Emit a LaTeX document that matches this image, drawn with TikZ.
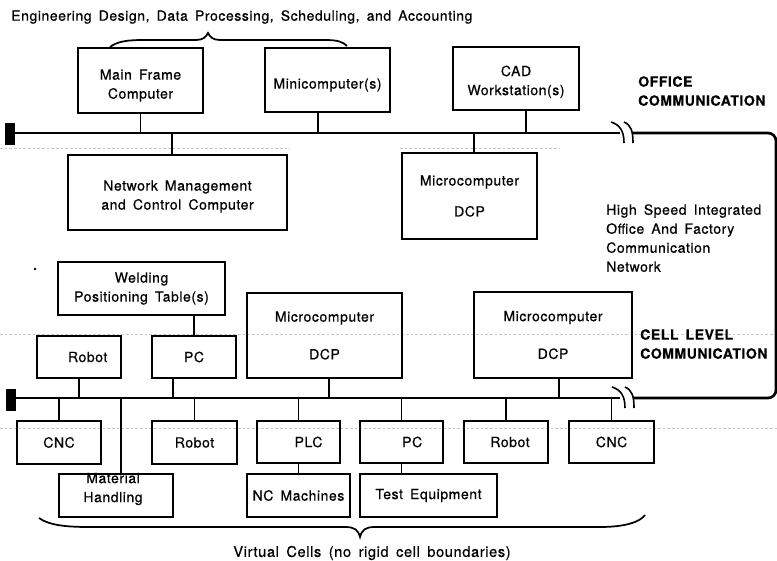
\documentclass[tikz,border=0pt]{standalone}
\usepackage{fontspec}
\setmainfont{TeX Gyre Heros}[LetterSpace=4,WordSpace=1.6,FakeBold=0.6]
\newcommand\bxfont{\fontsize{10.5}{14.25}\selectfont}
\newcommand\ttlfont{\fontsize{10.5}{13}\selectfont}
\newcommand\capfont{\fontsize{11}{13}\selectfont}
\newcommand\lblfont{\fontsize{10.5}{14.25}\selectfont\bfseries}
\begin{document}
\begin{tikzpicture}[x=0.75pt,y=-0.75pt,
  box/.style n args={2}{draw, line width=1.4pt, minimum width=#1*0.75pt,
    minimum height=#2*0.75pt, inner sep=0pt, align=center, font=\bxfont},
  bus/.style={line width=2pt},
  link/.style={line width=1.2pt},
  brk/.style={line width=1.2pt},
  brace/.style={line width=1.3pt},
  blk/.style={fill=black, minimum width=7.5pt, minimum height=16.5pt, inner sep=0pt},
  plain/.style={inner sep=0pt, font=\bxfont, align=center},
  scan/.style={gray!45, line width=0.5pt, dash pattern=on 2pt off 1.5pt}]
\useasboundingbox (0,0) rectangle (777,560);

% faint ruling lines of the sheet
\draw[scan] (0,148) -- (290,148) (400,148) -- (560,148);
\draw[scan] (0,334) -- (777,334);
\draw[scan] (0,428) -- (777,428);

% ---------- office level ----------
\node[anchor=west, inner sep=0pt, font=\ttlfont] (title) at (11,17)
  {Engineering Design, Data Processing, Scheduling, and Accounting};
\draw[brace] (110,47) .. controls (118,41) and (128,40) .. (145,40) -- (196,40)
  .. controls (203,40) and (206,37) .. (208,33)
  .. controls (210,37) and (213,40) .. (220,40) -- (325,40)
  .. controls (338,40) and (343,42) .. (347,46);

\node[box={125}{65}] (mf)   at (140.5,80.5) {};
\node[box={125}{64}] (mini) at (327.5,80)   {};
\node[box={126}{63}] (cad)  at (516,78.5)   {};
\node[box={219}{75}] (nm)   at (177.5,192.5) {};
\node[plain] (mft)   at ([yshift=-3.75pt]mf.center)   {Main Frame\\Computer};
\node[plain] (minit) at ([yshift=-3.75pt]mini.center) {Minicomputer(s)};
\node[plain] (cadt)  at ([yshift=-2.5pt]cad.center)   {CAD\\Workstation(s)};
\node[plain] (nmt)   at ([yshift=-3pt]nm.center)      {Network Management\\and Control Computer};
\node[box={135}{86}] (omc)  at (469.5,196)  {Microcomputer\\[9pt]DCP};

\node[anchor=north west, align=left, inner sep=0pt, font=\lblfont] (office) at (638,76)
  {OFFICE\\COMMUNICATION};
\node[anchor=north west, align=left, inner sep=0pt, font=\bxfont] (hs) at (606,204)
  {High Speed Integrated\\Office And Factory\\Communication\\Network};

% office bus
\node[blk] (oblk) at (10,134) {};
\coordinate (obus) at (0,133);
\coordinate (obrk) at (620,133);
\coordinate (ores) at (633,133);
\coordinate (ne) at (776,133);
\draw[bus] (oblk.east |- obus) -- (obrk);
\draw[brk] (611,122) .. controls (620,125) and (624,131) .. (624,143);
\draw[brk] (624,122) .. controls (631,125) and (633,131) .. (633,143);

\draw[link] (mf.south) -- (mf.south |- obus);
\draw[link] ([xshift=-7.1pt]mini.south) -- ([xshift=-7.1pt]mini.south |- obus);
\draw[link] ([xshift=7.5pt]cad.south) -- ([xshift=7.5pt]cad.south |- obus);
\draw[link] ([xshift=-4.1pt]nm.north) -- ([xshift=-4.1pt]nm.north |- obus);
\draw[link] ([xshift=3.4pt]omc.north) -- ([xshift=3.4pt]omc.north |- obus);

% ---------- cell level ----------
\fill (35,269) circle (1.3);
\node[box={167}{53}] (weld) at (141.5,288.5) {Welding\\Positioning Table(s)};
\node[box={84}{42}]  (robA) at (79,357)     {\hspace*{13pt}Robot};
\node[box={84}{42}]  (pcA)  at (194,357)    {PC};
\node[box={155}{85}] (cmL)  at (324.5,335.5) {Microcomputer\\[14pt]DCP};
\node[box={158}{86}] (cmR)  at (553,335)    {Microcomputer\\[14pt]DCP};

\node[anchor=north west, align=left, inner sep=0pt, font=\lblfont] (cell) at (640,329)
  {CELL LEVEL\\COMMUNICATION};

% cell bus
\node[blk] (cblk) at (11,400) {};
\coordinate (cbus) at (0,398);
\coordinate (cbrk) at (620,398);
\coordinate (cres) at (633,398);
\coordinate (se) at (776,398);
\draw[bus] (cblk.east |- cbus) -- (cbrk);
\draw[brk] (612,387) .. controls (621,390) and (625,396) .. (625,408);
\draw[brk] (625,387) .. controls (632,390) and (634,396) .. (634,408);
\draw[bus, rounded corners=6pt] (ores) -- (ne) -- (se) -- (cres);

\node[box={84}{43}]  (cncA) at (59,442.5)   {CNC};
\node[box={114}{43}] (mh)   at (116,495.5)  {};
\node[plain] (mht) at (113,489) {Material\\Handling};
\node[box={85}{43}]  (robB) at (194.5,442.5) {Robot};
\node[box={83}{42}]  (plc)  at (298.5,442)  {\hspace*{15pt}PLC};
\node[box={103}{43}] (nc)   at (298.5,495.5) {NC Machines};
\node[box={83}{42}]  (pcB)  at (401.5,442)  {\hspace*{16pt}PC};
\node[box={137}{43}] (test) at (428.5,495.5) {Test Equipment};
\node[box={84}{42}]  (robC) at (506,442)    {\hspace*{6pt}Robot};
\node[box={85}{42}]  (cncB) at (611.5,442)  {CNC};

\draw[link] (pcA.north) -- (pcA.north |- weld.south);
\draw[link] (robA.south) -- (robA.south |- cbus);
\draw[link] ([xshift=-15.75pt]pcA.south) -- ([xshift=-15.75pt]pcA.south |- cbus);
\draw[link] ([xshift=3.4pt]cmL.south) -- ([xshift=3.4pt]cmL.south |- cbus);
\draw[link] ([xshift=4.5pt]cmR.south) -- ([xshift=4.5pt]cmR.south |- cbus);

\draw[link] (cncA.north) -- (cncA.north |- cbus);
\draw[link] ([xshift=3.75pt]mh.north) -- ([xshift=3.75pt]mh.north |- cbus);
\draw[link] (robB.north) -- (robB.north |- cbus);
\draw[link] (plc.north) -- (plc.north |- cbus);
\draw[link] (pcB.north) -- (pcB.north |- cbus);
\draw[link] (robC.north) -- (robC.north |- cbus);
\draw[link] (cncB.north) -- (cncB.north |- cbus);
\draw[link] (plc.south) -- (plc.south |- nc.north);
\draw[link] (pcB.south) -- (pcB.south |- test.north);

% lower brace and caption
\draw[brace] (39,518) .. controls (50,526) and (70,527) .. (90,527) -- (345,527)
  .. controls (355,527) and (358,530) .. (360,537)
  .. controls (362,530) and (365,527) .. (375,527) -- (600,527)
  .. controls (625,527) and (640,522) .. (645,515);
\node[inner sep=0pt, font=\capfont] (virt) at (372,553) {Virtual Cells (no rigid cell boundaries)};
\end{tikzpicture}
\end{document}
